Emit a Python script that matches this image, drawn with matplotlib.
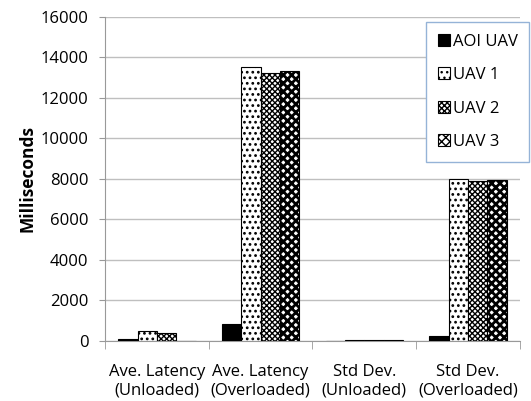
import numpy as np
import matplotlib.pyplot as plt

plt.rcParams['font.family'] = ['Open Sans', 'DejaVu Sans']
plt.rcParams['hatch.linewidth'] = 1.0

categories = ["Ave. Latency\n(Unloaded)", "Ave. Latency\n(Overloaded)",
              "Std Dev.\n(Unloaded)", "Std Dev.\n(Overloaded)"]
series = ["AOI UAV", "UAV 1", "UAV 2", "UAV 3"]
aoi_uav = [90, 850, 15, 250]
uav1 = [480, 13540, 40, 7990]
uav2 = [380, 13250, 45, 7900]
uav3 = [10, 13320, 40, 7950]
values = [aoi_uav, uav1, uav2, uav3]

# fill colour, hatch, hatch line width
styles = [("black", None, 1.0),
          ("white", "...", 1.2),
          ("white", "xxxxxx", 1.0),
          ("white", "xxxx", 2.0)]

fig = plt.figure(figsize=(5.31, 4.01), dpi=100)
ax = fig.add_axes([0.198, 0.150, 0.781, 0.808])

x = np.arange(len(categories))
w = 0.187
for i, (name, vals) in enumerate(zip(series, values)):
    fc, hatch, hlw = styles[i]
    with plt.rc_context({'hatch.linewidth': hlw}):
        ax.bar(x + (i - 1.5) * w, vals, w, label=name, facecolor=fc,
               edgecolor="black", linewidth=0.8, hatch=hatch, zorder=3)

ax.set_ylim(0, 16000)
ax.set_yticks(np.arange(0, 16001, 2000))
ax.set_xlim(-0.5, 3.5)
ax.set_xticks(x)
ax.set_xticklabels(categories, fontsize=12, linespacing=1.2)
ax.set_xticks(np.arange(-0.5, 3.6, 1), minor=True)
ax.tick_params(axis="x", which="major", length=0, pad=17)
ax.tick_params(axis="x", which="minor", length=6, color="#999999")
ax.tick_params(axis="y", length=4, color="#999999", labelsize=12, pad=8)
ax.grid(axis="y", color="#BFBFBF", linewidth=1, zorder=0)
for s in ["top", "right"]:
    ax.spines[s].set_visible(False)
ax.spines["left"].set_color("#999999")
ax.spines["bottom"].set_color("#999999")
ax.set_ylabel("Milliseconds", fontsize=12.5, fontweight="bold", labelpad=3)

leg = ax.legend(loc="upper right", bbox_to_anchor=(1.035, 1.0), fontsize=12,
                fancybox=False, framealpha=1, edgecolor="#95B3D7",
                handlelength=0.75, handleheight=0.75, handletextpad=0.15,
                labelspacing=1.05, borderpad=0.7, borderaxespad=0.3)

fig.savefig("out.png", dpi=100)
